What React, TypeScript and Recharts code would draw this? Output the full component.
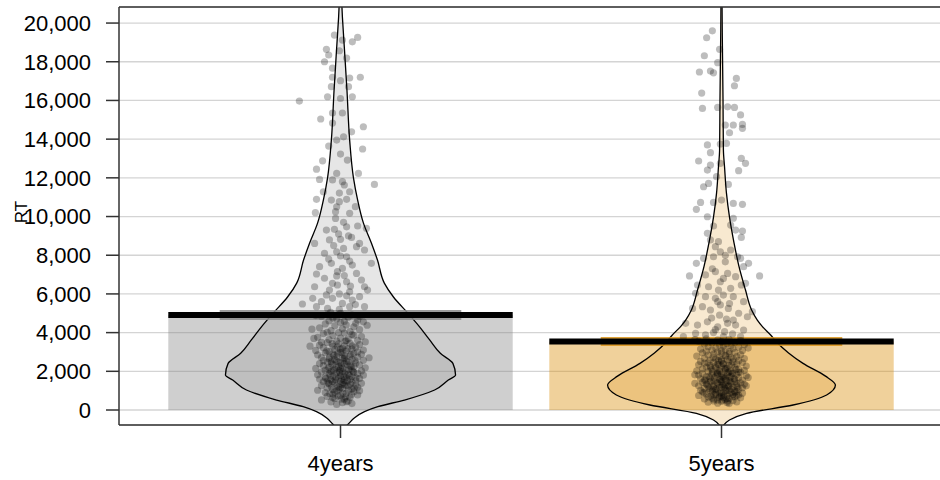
import {
	Area,
	CartesianGrid,
	ComposedChart,
	ReferenceArea,
	ReferenceLine,
	Scatter,
	XAxis,
	YAxis,
} from "recharts";

const GROUPS = ["4years", "5years"];
const MEANS = [4913, 3543];
const BAND_LOW = [4655, 3310];
const BAND_HIGH = [5170, 3776];
const Y_TICKS = [0, 2000, 4000, 6000, 8000, 10000, 12000, 14000, 16000, 18000, 20000];

const X_MIN = 0.4186;
const X_MAX = 2.584;
const Y_MIN = -775;
const Y_MAX = 20830;

const BAR_HALF = 0.452;
const BAND_HALF = 0.317;

const BAR_COLORS = ["#808080", "#DA8C05"];

// violin outline: RT value -> half width (x units)
const densityRT4 = [-1600, -775, -690, -400, -88, 170, 517, 1034, 1550, 1810, 2410, 2930, 3620, 4310, 5000, 5840, 6560, 7750, 8630, 9670, 10850, 12000, 13950, 16500, 18750, 20300, 22000];
const densityWidth4 = [0, 0.018, 0.022, 0.037, 0.063, 0.098, 0.168, 0.247, 0.283, 0.302, 0.295, 0.262, 0.234, 0.207, 0.177, 0.139, 0.115, 0.097, 0.081, 0.06, 0.045, 0.034, 0.024, 0.017, 0.01, 0.005, 0.001];

const densityRT5 = [-1000, -830, -517, -170, 259, 776, 1290, 1750, 2410, 2950, 3460, 3880, 4300, 4650, 5170, 6200, 7410, 8630, 9970, 11210, 12560, 13440, 16000, 19500, 22000];
const densityWidth5 = [0, 0.004, 0.021, 0.066, 0.188, 0.276, 0.299, 0.273, 0.214, 0.176, 0.147, 0.129, 0.108, 0.094, 0.079, 0.063, 0.046, 0.033, 0.021, 0.013, 0.008, 0.005, 0.004, 0.002, 0.001];

// raw observations: [jitter, RT]
const points4: [number, number][] = [
	[-0.016, 19380], [0.045, 19260], [0.031, 19030], [0.005, 19120], [-0.037, 18640], [-0.031, 18350], [-0.042, 18000],
	[-0.003, 18570], [0.016, 18190], [-0.021, 17670], [-0.021, 17200], [0.024, 17160], [0.052, 17200], [0, 17020],
	[-0.024, 16710], [0.021, 16710], [-0.034, 16190], [0.031, 16190], [-0.108, 15970], [0, 16100], [-0.052, 15040],
	[-0.021, 15350], [0.005, 15350], [0.06, 14640], [-0.021, 14830], [0.029, 14380], [0.008, 14120], [-0.01, 13950],
	[-0.031, 13640], [0.058, 13490], [0, 13230], [-0.047, 12880], [0.018, 12920], [-0.063, 12450], [0.047, 12230],
	[-0.01, 12230], [-0.055, 11920], [0.089, 11660], [-0.021, 11890], [0.01, 11630], [-0.045, 11280], [-0.003, 11210],
	[0.024, 11280], [-0.063, 10890], [-0.066, 10200], [-0.024, 10850], [-0.003, 10770], [0.016, 10890], [-0.013, 10250],
	[0.024, 10170], [0.039, 10510], [-0.037, 9300], [-0.016, 9340], [0.016, 9470], [0.045, 9510], [0.068, 9390],
	[-0.029, 8790], [0, 8820], [0.029, 8920], [0.05, 8610], [-0.068, 8610], [-0.042, 8100], [-0.01, 8180], [0.016, 7920],
	[0.042, 8440], [0.063, 8270], [-0.055, 7410], [-0.024, 7580], [0, 7960], [0.005, 7320], [0.031, 7490], [0.081, 7580],
	[-0.063, 7030], [-0.042, 6810], [-0.01, 6930], [0.016, 6630], [0.042, 7060], [0.055, 6720], [-0.068, 6370],
	[-0.029, 6200], [-0.008, 6460], [0.024, 6110], [0.063, 6370], [-0.1, 5480], [-0.073, 5770], [-0.05, 5600],
	[-0.021, 5770], [0.005, 5510], [0.031, 5680], [0.05, 5860], [0.071, 6200], [-0.063, 5340], [-0.034, 5250],
	[-0.003, 5200], [0.024, 5340], [0.063, 5340], [-0.013, 9900], [0.008, 9700], [-0.005, 9100], [0.021, 9000],
	[-0.018, 8500], [0.008, 8350], [-0.031, 7800], [0.024, 7700], [-0.008, 7150], [0.01, 6950], [-0.021, 6550],
	[0.026, 6400], [-0.003, 6000], [-0.037, 5950], [0.016, 5900], [0.039, 5450], [-0.026, 5050], [0, 5000],
	[-0.01, 10500], [0.005, 11800],
	[-0.05, 4850], [0.02, 4800], [-0.01, 4700], [0.045, 4650], [-0.03, 4600], [0.06, 4560], [0, 4520], [-0.065, 4880],
	[0.03, 4900], [-0.02, 4750], [0.01, 4580], [0.05, 4850], [-0.04, 4450], [0.015, 4400], [-0.015, 4350], [0.035, 4300],
	[-0.055, 4250], [0.005, 4200], [0.05, 4150], [-0.025, 4100], [0.025, 4050], [-0.005, 4000], [0.07, 4380],
	[-0.075, 4180], [0.04, 4480], [-0.035, 4020], [0.01, 3980], [-0.045, 3950], [0.03, 3900], [-0.02, 3850],
	[0.055, 3800], [-0.06, 3760], [0, 3720], [0.02, 3680], [-0.03, 3640], [0.045, 3600], [-0.01, 3560], [0.065, 3520],
	[-0.05, 3500], [0.035, 3870], [-0.07, 3700], [0.015, 3580], [-0.035, 3480], [0.025, 3450], [-0.005, 3420],
	[0.05, 3380], [-0.055, 3350], [0.01, 3320], [-0.02, 3290], [0.04, 3250], [-0.045, 3220], [0.005, 3190], [0.03, 3150],
	[-0.015, 3120], [0.06, 3100], [-0.065, 3080], [0.015, 3050], [-0.03, 3020], [0.045, 3000], [-0.08, 3300],
	[0, 2980], [-0.04, 2960], [0.035, 2930], [-0.02, 2900], [0.055, 2880], [-0.06, 2850], [0.01, 2820], [0.025, 2790],
	[-0.01, 2760], [0.045, 2740], [-0.05, 2710], [0.005, 2680], [-0.03, 2650], [0.03, 2620], [-0.015, 2600], [0.06, 2570],
	[-0.045, 2550], [0.015, 2530], [-0.025, 2510], [0.075, 2700], [0.02, 2490], [-0.035, 2470], [0, 2450], [0.04, 2420],
	[-0.055, 2400], [0.01, 2380], [-0.02, 2350], [0.05, 2330], [-0.045, 2300], [0.025, 2280], [-0.005, 2250],
	[0.035, 2230], [-0.03, 2200], [0.065, 2180], [-0.065, 2150], [0, 2130], [-0.015, 2100], [0.03, 2080], [-0.04, 2060],
	[0.015, 2040], [0.055, 2020], [-0.025, 2000], [0.005, 1980], [-0.05, 1960], [0.035, 1940], [-0.01, 1910],
	[0.045, 1890], [-0.03, 1870], [0.02, 1850], [-0.06, 1820], [0.06, 1800], [0, 1780], [-0.02, 1750], [0.03, 1730],
	[-0.04, 1700], [0.015, 1680], [-0.005, 1650], [0.05, 1630], [-0.055, 1600], [0.025, 1580], [-0.025, 1560],
	[0.01, 1540], [0.04, 1520], [-0.035, 1500], [0, 1480], [-0.045, 1460], [0.03, 1430], [-0.015, 1400], [0.055, 1380],
	[-0.03, 1350], [0.01, 1320], [0.04, 1290], [-0.05, 1260], [0.02, 1230], [-0.005, 1200], [0.045, 1170],
	[-0.035, 1140], [0.005, 1110], [0.03, 1080], [-0.02, 1050], [-0.06, 1020], [0.05, 1000], [-0.01, 980], [0.035, 950],
	[-0.04, 900], [0.015, 860], [-0.02, 820], [0.045, 780], [0, 740], [-0.035, 700], [0.025, 650], [-0.015, 600],
	[0.01, 550], [-0.05, 520], [0.02, 470], [-0.025, 420], [0.005, 380], [0.03, 330], [-0.01, 290],
	[0.012, 3560], [-0.022, 3430], [0.031, 3310], [-0.008, 3270], [0.019, 3170], [-0.036, 3060], [0.004, 2990],
	[0.027, 2870], [-0.017, 2830], [-0.029, 2730], [0.009, 2660], [0.038, 2560], [-0.006, 2480], [-0.024, 2420],
	[0.017, 2360], [0.028, 2260], [-0.011, 2210], [0.006, 2160], [-0.033, 2110], [0.022, 2090], [-0.019, 2050],
	[0.033, 1990], [-0.002, 1930], [0.012, 1870], [-0.027, 1800], [0.024, 1760], [-0.012, 1710], [0.041, 1660],
	[-0.038, 1640], [0.003, 1590], [0.018, 1510], [-0.021, 1470], [0.008, 1420], [-0.032, 1390], [0.026, 1340],
	[-0.009, 1300], [0.014, 1250], [-0.024, 1190], [0.036, 1130], [-0.004, 1060], [0.021, 1010], [-0.015, 940],
	[0.006, 880], [-0.028, 840], [0.029, 800], [-0.006, 720], [0.013, 680], [-0.02, 630], [0.003, 560], [0.016, 430],
	[-0.011, 2550], [0.002, 2310], [-0.003, 2020], [0.009, 1720], [-0.014, 1560], [0.004, 1340], [-0.001, 1150],
	[0.011, 2700], [-0.007, 2930], [0, 3150],
];

const points5: [number, number][] = [
	[-0.024, 19600], [-0.039, 19240], [-0.045, 18310], [-0.005, 18640], [-0.01, 17950], [-0.058, 17470], [-0.029, 17520],
	[-0.021, 17430], [0.039, 17140], [0.034, 16760], [-0.052, 16380], [-0.05, 15590], [-0.01, 15640], [0.016, 15670],
	[0.034, 15640], [0.05, 15250], [0.01, 14730], [0.031, 14730], [0.055, 14760], [0.055, 14560], [0.021, 14330],
	[-0.037, 13700], [-0.003, 13750], [0.013, 13780], [-0.029, 13300], [-0.06, 12870], [0.052, 13010], [0.063, 12750],
	[-0.029, 12660], [-0.037, 12400], [0.045, 12370], [-0.003, 12750], [-0.013, 12060], [-0.047, 11540], [-0.034, 11710],
	[0.018, 11660], [-0.055, 10730], [-0.066, 10370], [-0.021, 10730], [0, 10850], [0.031, 10680], [0.055, 10630],
	[-0.037, 9990], [0.031, 9910], [-0.021, 9510], [0.024, 9560], [0.037, 9300], [0.055, 9250], [0.052, 8920],
	[-0.037, 9130], [-0.029, 8790], [-0.016, 8440], [-0.047, 7840], [-0.066, 7580], [-0.084, 6930], [0.05, 7840],
	[0.071, 7580], [0.058, 7410], [0.1, 6930], [-0.003, 8180], [0.024, 8270], [-0.021, 7920], [0.01, 7660], [0.042, 7920],
	[-0.042, 6980], [-0.016, 7150], [0.016, 7060], [0.037, 6890], [-0.003, 6630], [-0.063, 6460], [-0.034, 6370],
	[-0.008, 6200], [0.024, 6290], [0.052, 6460], [0.063, 6550], [-0.068, 6030], [-0.042, 5860], [-0.016, 5770],
	[0.005, 5940], [0.031, 5860], [0.058, 5600], [0.081, 5080], [-0.076, 5250], [-0.05, 5340], [-0.029, 5170],
	[-0.003, 5430], [0.018, 5250], [0.045, 5000], [0.068, 4820], [-0.094, 4480], [-0.063, 4390], [-0.037, 4560],
	[-0.01, 4300], [0.016, 4480], [0.037, 4390], [0.058, 4130], [-0.1, 3790], [-0.068, 3960], [-0.042, 3880],
	[-0.021, 4000], [0.005, 3790], [0.029, 3930], [0.05, 3790], [-0.008, 8700], [0.01, 8000], [-0.024, 7300],
	[0.005, 6800], [-0.01, 5600], [0.021, 5500], [-0.005, 4900], [0.013, 4700], [-0.026, 4750], [0.031, 4650],
	[-0.016, 4150], [0.008, 4050],
	[-0.04, 3680], [0.02, 3650], [-0.01, 3620], [0.05, 3590], [-0.06, 3560], [0, 3530], [0.035, 3500], [-0.025, 3470],
	[0.015, 3440], [-0.045, 3410], [0.06, 3380], [-0.005, 3350], [0.025, 3320], [-0.07, 3640], [0.005, 3290],
	[-0.035, 3270], [0.045, 3240], [-0.015, 3210], [0.03, 3180], [-0.055, 3150], [0.01, 3120], [-0.025, 3100],
	[0.055, 3080], [0, 3060], [-0.04, 3040], [0.02, 3020], [-0.01, 3000], [0.07, 3200], [0.035, 2980], [-0.05, 2960],
	[0, 2940], [0.02, 2910], [-0.02, 2890], [0.05, 2860], [-0.035, 2840], [0.01, 2810], [-0.065, 2790], [0.04, 2760],
	[-0.005, 2740], [0.025, 2710], [-0.045, 2680], [0.06, 2660], [-0.015, 2630], [0.015, 2600], [-0.03, 2580],
	[0.045, 2550], [0, 2530], [-0.055, 2510], [0.03, 2490], [-0.02, 2470], [0.055, 2450], [-0.045, 2430], [0.005, 2400],
	[0.04, 2380], [-0.01, 2360], [-0.06, 2340], [0.02, 2310], [-0.03, 2290], [0.065, 2270], [0, 2250], [-0.04, 2220],
	[0.035, 2200], [-0.015, 2180], [0.015, 2150], [-0.05, 2130], [0.045, 2110], [-0.025, 2090], [0.01, 2070],
	[0.06, 2050], [-0.065, 2030], [0.025, 2010], [-0.005, 2000], [-0.035, 1990], [0.02, 1970], [0.05, 1950],
	[-0.01, 1930], [0.03, 1910], [-0.05, 1890], [0, 1870], [-0.025, 1850], [0.04, 1830], [-0.06, 1810], [0.015, 1790],
	[0.065, 1770], [-0.015, 1750], [0.025, 1730], [-0.04, 1710], [0.005, 1690], [0.045, 1670], [-0.03, 1650],
	[0.01, 1630], [-0.055, 1610], [0.035, 1590], [-0.005, 1570], [0.055, 1550], [-0.045, 1530], [0.02, 1515],
	[-0.02, 1500], [0.07, 1680], [-0.07, 1820], [0, 1490], [0.035, 1475], [-0.03, 1460], [0.015, 1445], [-0.05, 1430],
	[0.05, 1410], [-0.01, 1390], [0.025, 1370], [-0.04, 1350], [0.06, 1330], [0.005, 1310], [-0.02, 1290], [0.04, 1270],
	[-0.06, 1250], [0.02, 1230], [-0.035, 1210], [0.03, 1190], [-0.005, 1170], [0.055, 1150], [-0.045, 1130],
	[0.01, 1110], [-0.025, 1090], [0.045, 1070], [-0.015, 1050], [0.02, 1030], [-0.055, 1015], [0.035, 1000],
	[0.065, 1250], [-0.07, 1380], [0, 1200], [-0.03, 990], [0.01, 970], [0.04, 950], [-0.05, 930], [0.025, 910],
	[-0.015, 890], [0.055, 870], [0, 850], [-0.04, 830], [0.03, 810], [-0.02, 790], [0.045, 770], [-0.06, 750],
	[0.015, 730], [-0.005, 710], [0.035, 690], [-0.035, 670], [0.005, 650], [0.05, 630], [-0.025, 610], [0.02, 590],
	[-0.045, 570], [0.01, 540], [-0.01, 520], [0.03, 490], [-0.02, 470], [0, 450], [0.04, 420], [-0.035, 400],
	[0.015, 380], [-0.01, 350], [0.02, 330],
	[0.012, 2780], [-0.022, 2720], [0.031, 2640], [-0.008, 2570], [0.019, 2490], [-0.036, 2440], [0.004, 2390],
	[0.027, 2330], [-0.017, 2270], [-0.029, 2200], [0.009, 2160], [0.038, 2090], [-0.006, 2050], [-0.024, 1980],
	[0.017, 1940], [0.028, 1880], [-0.011, 1840], [0.006, 1780], [-0.033, 1740], [0.022, 1700], [-0.019, 1660],
	[0.033, 1620], [-0.002, 1580], [0.012, 1540], [-0.027, 1490], [0.024, 1450], [-0.012, 1410], [0.041, 1370],
	[-0.038, 1320], [0.003, 1280], [0.018, 1240], [-0.021, 1200], [0.008, 1160], [-0.032, 1120], [0.026, 1080],
	[-0.009, 1040], [0.014, 1000], [-0.024, 960], [0.036, 920], [-0.004, 880], [0.021, 840], [-0.015, 800],
	[0.006, 760], [-0.028, 720], [0.029, 680], [-0.006, 640], [0.013, 600], [-0.02, 560], [0.003, 510], [0.016, 460],
	[-0.011, 1900], [0.002, 1700], [-0.003, 1450], [0.009, 1300], [-0.014, 1100], [0.004, 900], [-0.001, 700],
	[0.011, 2150], [-0.007, 2350], [0, 2600], [0.042, 1180], [-0.043, 1560], [0.045, 1950], [-0.046, 900], [0.04, 760],
];

const FONT = '"Liberation Sans", Arial, Helvetica, sans-serif';

function violinData(rts: number[], widths: number[], center: number) {
	return rts.map((rt, i) => ({ y: rt, range: [center - widths[i], center + widths[i]] }));
}

function pointData(pts: [number, number][], center: number) {
	return pts.map(([dx, rt]) => ({ x: center + dx, y: rt }));
}

const violins = [
	violinData(densityRT4, densityWidth4, 1),
	violinData(densityRT5, densityWidth5, 2),
];
const scatters = [pointData(points4, 1), pointData(points5, 2)];

const Dot = (props: any) => <circle cx={props.cx} cy={props.cy} r={3.6} fill="#000" fillOpacity={0.26} />;

export default function App() {
	return (
		<div
			style={{
				position: "absolute",
				left: 0,
				top: 0,
				width: 940,
				height: 480,
				overflow: "hidden",
				background: "#fff",
				fontFamily: FONT,
			}}
		>
			<ComposedChart
				layout="vertical"
				width={950}
				height={480}
				margin={{ top: 7, right: 6, bottom: 0, left: 0 }}
			>
				<CartesianGrid vertical={false} stroke="#d4d4d4" strokeWidth={1.3} />
				<XAxis
					type="number"
					dataKey="x"
					domain={[X_MIN, X_MAX]}
					allowDataOverflow
					ticks={[1, 2]}
					interval={0}
					tickFormatter={(v) => GROUPS[Math.round(v) - 1]}
					height={55}
					tickSize={13}
					tickMargin={17}
					stroke="#333"
					strokeWidth={1.5}
					fontSize={22}
					tick={{ fill: "#000", fontSize: 22, fontFamily: FONT }}
				/>
				<YAxis
					type="number"
					dataKey="y"
					reversed
					domain={[Y_MIN, Y_MAX]}
					allowDataOverflow
					ticks={Y_TICKS}
					interval={0}
					width={119}
					tickSize={13}
					tickMargin={15}
					stroke="#333"
					strokeWidth={1.5}
					fontSize={22}
					tickFormatter={(v) => v.toLocaleString("en-US")}
					tick={{ fill: "#000", fontSize: 22, fontFamily: FONT }}
					label={{
						content: () => (
							<text
								x={21}
								y={212}
								transform="rotate(-90 21 212)"
								textAnchor="middle"
								dominantBaseline="central"
								fontSize={17}
								fontFamily={FONT}
								fill="#000"
							>
								RT
							</text>
						),
					}}
				/>
				{GROUPS.map((g, i) => (
					<ReferenceArea
						key={`bar-${g}`}
						x1={i + 1 - BAR_HALF}
						x2={i + 1 + BAR_HALF}
						y1={0}
						y2={MEANS[i]}
						fill={BAR_COLORS[i]}
						fillOpacity={i === 0 ? 0.38 : 0.4}
						stroke="none"
						ifOverflow="visible"
					/>
				))}
				{GROUPS.map((g, i) => (
					<Area
						key={`violin-${g}`}
						data={violins[i]}
						dataKey="range"
						type="monotone"
						stroke="#000"
						strokeWidth={1.3}
						fill={BAR_COLORS[i]}
						fillOpacity={i === 0 ? 0.2 : 0.19}
						dot={false}
						activeDot={false}
						isAnimationActive={false}
					/>
				))}
				{GROUPS.map((g, i) => (
					<Scatter key={`pts-${g}`} data={scatters[i]} shape={Dot} isAnimationActive={false} />
				))}
				{GROUPS.map((g, i) => (
					<ReferenceArea
						key={`band-${g}`}
						x1={i + 1 - BAND_HALF}
						x2={i + 1 + BAND_HALF}
						y1={BAND_LOW[i]}
						y2={BAND_HIGH[i]}
						fill={i === 0 ? "#8a8a8a" : "#DB9419"}
						fillOpacity={0.85}
						stroke="none"
						ifOverflow="visible"
					/>
				))}
				{GROUPS.map((g, i) => (
					<ReferenceLine
						key={`mean-${g}`}
						segment={[
							{ x: i + 1 - BAR_HALF, y: MEANS[i] },
							{ x: i + 1 + BAR_HALF, y: MEANS[i] },
						]}
						stroke="#000"
						strokeWidth={6}
						ifOverflow="visible"
					/>
				))}
				<ReferenceLine y={Y_MAX} stroke="#333" strokeWidth={1.5} ifOverflow="visible" />
			</ComposedChart>
		</div>
	);
}
